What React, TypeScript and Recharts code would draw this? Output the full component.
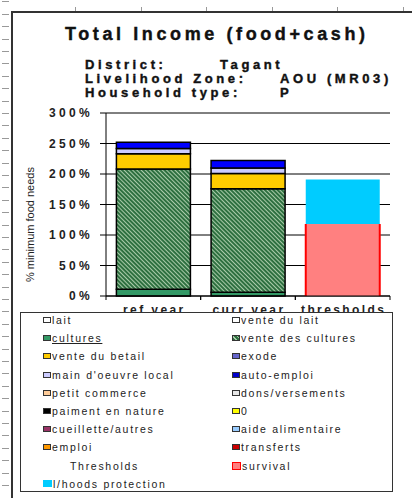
import React from "react";
import {
  BarChart,
  Bar,
  XAxis,
  YAxis,
  CartesianGrid,
} from "recharts";

// values (% of minimum food needs)
const categories = ["ref year", "curr year", "thresholds"];
const cultures = [11, 6, 0];
const venteCultures = [197, 170, 0];
const venteBetail = [25, 25, 0];
const mainOeuvre = [9, 9, 0];
const autoEmploi = [10, 12, 0];
const survival = [0, 0, 118];
const protection = [0, 0, 73];
const yTicks = [0, 50, 100, 150, 200, 250, 300];

const legendNames = [
  "lait",
  "vente du lait",
  "cultures",
  "vente des cultures",
  "vente du betail",
  "exode",
  "main d'oeuvre local",
  "auto-emploi",
  "petit commerce",
  "dons/versements",
  "paiment en nature",
  "0",
  "cueillette/autres",
  "aide alimentaire",
  "emploi",
  "transferts",
  "Thresholds",
  "survival",
  "l/hoods protection",
];

const data = categories.map((name, i) => ({
  name,
  cultures: cultures[i],
  venteCultures: venteCultures[i],
  venteBetail: venteBetail[i],
  mainOeuvre: mainOeuvre[i],
  autoEmploi: autoEmploi[i],
  survival: survival[i],
  protection: protection[i],
}));

const FONT = '"Liberation Sans", Arial, sans-serif';
const W = 412;
const H = 498;
const CHART_H = 312;
const MARGIN = { top: 113, right: 22, bottom: 0, left: 0 };
const Y_W = 106;
const BAND = (W - MARGIN.right - MARGIN.left - Y_W) / categories.length;

const HATCH =
  "repeating-linear-gradient(45deg, #2e7040 0px, #2e7040 2px, #a9cba9 2px, #a9cba9 3px)";

const swatch: Record<string, { bg: string; border?: string; w?: number; h?: number }> = {
  lait: { bg: "#ffffff" },
  "vente du lait": { bg: "#ffffff" },
  cultures: { bg: "#339966" },
  "vente des cultures": { bg: HATCH },
  "vente du betail": { bg: "#ffcc00" },
  exode: { bg: "#6666cc" },
  "main d'oeuvre local": { bg: "#ccccff" },
  "auto-emploi": { bg: "#0000cc" },
  "petit commerce": { bg: "#ffcc99" },
  "dons/versements": { bg: "#e6e6e6" },
  "paiment en nature": { bg: "#000000" },
  "0": { bg: "#ffff00" },
  "cueillette/autres": { bg: "#993366" },
  "aide alimentaire": { bg: "#99ccff" },
  emploi: { bg: "#ff9900" },
  transferts: { bg: "#cc0000" },
  survival: { bg: "#ff8080", border: "#ff0000", w: 9, h: 8 },
  "l/hoods protection": { bg: "#00ccff", border: "#00ccff", w: 9, h: 7 },
};

const YTick = (props: any) => {
  const { x, y, payload } = props;
  return (
    <text
      x={x - 5}
      y={y}
      textAnchor="end"
      dominantBaseline="central"
      fill="#222"
      style={{ fontFamily: FONT, fontSize: 12, fontWeight: "bold", letterSpacing: 3.3 }}
    >
      {payload.value}%
    </text>
  );
};

const XTick = (props: any) => {
  const { x, y, payload } = props;
  return (
    <g>
      <line x1={x - BAND / 2} x2={x - BAND / 2} y1={y - 8} y2={y - 4} stroke="#000" />
      <line x1={x + BAND / 2} x2={x + BAND / 2} y1={y - 8} y2={y - 4} stroke="#000" />
      <text
        x={x + 1}
        y={y + 10}
        textAnchor="middle"
        fill="#222"
        style={{ fontFamily: FONT, fontSize: 12, fontWeight: "bold", letterSpacing: 2.4 }}
      >
        {payload.value}
      </text>
    </g>
  );
};

const SurvivalShape = (props: any) => {
  const { x, y, width, height } = props;
  if (!height) return null;
  return (
    <g>
      <rect x={x} y={y} width={width} height={height} fill="#ff8080" />
      <line x1={x} x2={x} y1={y} y2={y + height} stroke="#ff0000" strokeWidth={2} />
      <line x1={x + width} x2={x + width} y1={y} y2={y + height} stroke="#ff0000" strokeWidth={2} />
    </g>
  );
};

const LegendBox = () => (
  <div
    style={{
      position: "absolute",
      left: 20,
      top: CHART_H,
      width: 373,
      height: 180,
      boxSizing: "border-box",
      border: "1.5px solid #333",
      background: "#fff",
      fontFamily: FONT,
    }}
  >
    {legendNames.map((name, i) => {
      const row = Math.floor(i / 2);
      const col = i % 2;
      const s = swatch[name];
      return (
        <div
          key={name}
          style={{
            position: "absolute",
            left: col === 0 ? 22 : 211,
            top: -2 + row * 18.2,
            height: 18,
            display: "flex",
            alignItems: "center",
            fontSize: 10.5,
            letterSpacing: 1.7,
            color: "#222",
            whiteSpace: "nowrap",
          }}
        >
          {s ? (
            <span
              style={{
                display: "inline-block",
                width: s.w ?? 8,
                height: s.h ?? 6,
                boxSizing: "border-box",
                border: `1px solid ${s.border ?? "#333"}`,
                background: s.bg,
                marginRight: 1,
              }}
            />
          ) : (
            <span style={{ display: "inline-block", width: 27 }} />
          )}
          <span style={{ textDecoration: name === "cultures" ? "underline" : "none" }}>
            {name}
          </span>
        </div>
      );
    })}
  </div>
);

const leftRuler = Array.from({ length: 40 }, (_, i) => 1.4 + i * 12.4);
const topRuler = Array.from({ length: 6 }, (_, i) => 75 + i * 65.6);

const heavy = {
  fontWeight: "bold" as const,
  color: "#111",
  whiteSpace: "nowrap" as const,
  WebkitTextStroke: "0.4px #111",
};

export default function App() {
  return (
    <div
      style={{
        position: "absolute",
        left: 0,
        top: 0,
        width: W,
        height: H,
        background: "#fff",
        overflow: "hidden",
        fontFamily: FONT,
      }}
    >
      {/* sheet frame */}
      <div style={{ position: "absolute", left: 11, top: 11, width: 2, height: H, background: "#333" }} />
      <div style={{ position: "absolute", left: 11, top: 11, width: W, height: 2, background: "#333" }} />
      {leftRuler.map((y) => (
        <div key={y} style={{ position: "absolute", left: 2, top: y, width: 7, height: 1, background: "#999" }} />
      ))}
      {topRuler.map((x) => (
        <div key={x} style={{ position: "absolute", left: x, top: 7, width: 1, height: 4, background: "#999" }} />
      ))}

      <div style={{ position: "absolute", left: 65, top: 24, fontSize: 18, letterSpacing: 3.6, ...heavy }}>
        Total Income (food+cash)
      </div>
      {[
        ["District:", "Tagant", 57, 220],
        ["Livelihood Zone:", "AOU (MR03)", 71, 280],
        ["Household type:", "P", 85, 280],
      ].map(([k, v, top, vx]) => (
        <React.Fragment key={k as string}>
          <div style={{ position: "absolute", left: 85, top: top as number, fontSize: 13, letterSpacing: 3.6, ...heavy }}>
            {k}
          </div>
          <div style={{ position: "absolute", left: vx as number, top: top as number, fontSize: 13, letterSpacing: 3.6, ...heavy }}>
            {v}
          </div>
        </React.Fragment>
      ))}

      <div style={{ position: "absolute", left: 0, top: 0 }}>
        <BarChart
          width={W}
          height={CHART_H}
          data={data}
          margin={MARGIN}
          barCategoryGap="11%"
        >
          <defs>
            <pattern
              id="hatch"
              width="3"
              height="3"
              patternUnits="userSpaceOnUse"
              patternTransform="rotate(-45)"
            >
              <rect width="3" height="3" fill="#2e7040" />
              <rect width="1" height="3" fill="#a9cba9" />
            </pattern>
          </defs>
          <CartesianGrid vertical={false} stroke="#000" />
          <XAxis
            dataKey="name"
            height={16}
            axisLine={{ stroke: "#000" }}
            tickLine={false}
            tick={<XTick />}
            interval={0}
          />
          <YAxis
            width={Y_W}
            domain={[0, 300]}
            ticks={yTicks}
            axisLine={{ stroke: "#000" }}
            tickLine={{ stroke: "#000" }}
            tickSize={6}
            tick={<YTick />}
            label={{
              value: "% minimum food needs",
              angle: -90,
              position: "center",
              dx: -23,
              dy: 20,
              style: { fontFamily: FONT, fontSize: 11, fill: "#222" },
            }}
          />
          <YAxis
            yAxisId="right"
            orientation="right"
            width={0}
            domain={[0, 300]}
            tick={false}
            tickLine={false}
            axisLine={{ stroke: "#000" }}
          />
          <Bar dataKey="cultures" stackId="a" fill="#339966" stroke="#000" strokeWidth={1.5} isAnimationActive={false} />
          <Bar dataKey="venteCultures" stackId="a" fill="url(#hatch)" stroke="#000" strokeWidth={1.5} isAnimationActive={false} />
          <Bar dataKey="venteBetail" stackId="a" fill="#ffcc00" stroke="#000" strokeWidth={1.5} isAnimationActive={false} />
          <Bar dataKey="mainOeuvre" stackId="a" fill="#ccccff" stroke="#000" strokeWidth={1.5} isAnimationActive={false} />
          <Bar dataKey="autoEmploi" stackId="a" fill="#0000ff" stroke="#000" strokeWidth={1.5} isAnimationActive={false} />
          <Bar dataKey="survival" stackId="a" fill="#ff8080" shape={<SurvivalShape />} isAnimationActive={false} />
          <Bar dataKey="protection" stackId="a" fill="#00ccff" isAnimationActive={false} />
        </BarChart>
      </div>

      <LegendBox />
    </div>
  );
}
